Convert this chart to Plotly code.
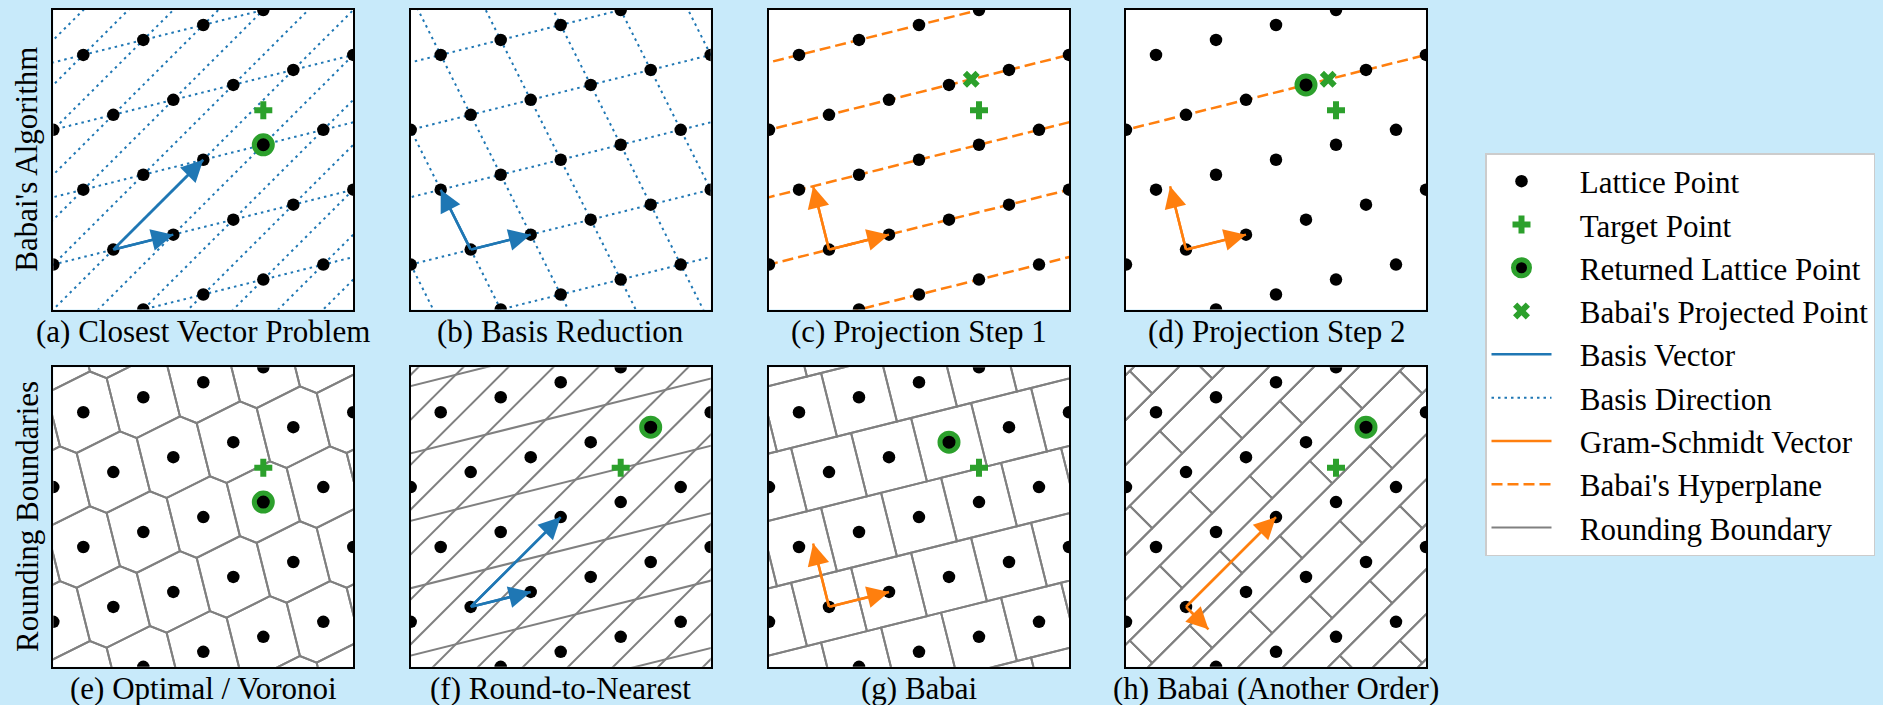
import numpy as np
import plotly.graph_objects as go

# ---------------- data ----------------
origin = [0.0, 0.0]
basis_b1 = [4.0, 1.0]
basis_b2 = [6.0, 6.0]
reduced_b2 = [-2.0, 4.0]          # b2 - 2*b1 (LLL-reduced partner of b1)
target = [10.0, 9.3]
axis_range = [-4.0, 16.0]

panel_titles = ["(a) Closest Vector Problem", "(b) Basis Reduction",
                "(c) Projection Step 1", "(d) Projection Step 2",
                "(e) Optimal / Voronoi", "(f) Round-to-Nearest",
                "(g) Babai", "(h) Babai (Another Order)"]
row_titles = ["Babai's Algorithm", "Rounding Boundaries"]
legend_names = ["Lattice Point", "Target Point", "Returned Lattice Point",
                "Babai's Projected Point", "Basis Vector", "Basis Direction",
                "Gram-Schmidt Vector", "Babai's Hyperplane", "Rounding Boundary"]

# ---------------- styles ----------------
BLUE, ORANGE, GREEN, GRAY = "#1f77b4", "#ff7f0e", "#2ca02c", "#808080"
BG = "#c8eafa"
FONT = "Liberation Serif, Times New Roman, serif"
W, H = 1883, 705
col_left = [53.3, 410.7, 769.0, 1126.0]
row_top = [10.0, 367.3]
PW, PH = 300.0, 299.5
PAD = "\u00a0\u00a0\u00a0"

O = np.array(origin); B1 = np.array(basis_b1); B2 = np.array(basis_b2)
B2R = np.array(reduced_b2); T = np.array(target)


def gram_schmidt(u, v):
    return v - (v @ u) / (u @ u) * u


def lattice(n=9):
    pts = []
    for i in range(-n, n + 1):
        for j in range(-n, n + 1):
            p = O + i * B1 + j * B2R
            if -12 <= p[0] <= 24 and -12 <= p[1] <= 24:
                pts.append(p)
    return np.array(pts)


PTS = lattice()


def closest(t):
    d = np.linalg.norm(PTS - t, axis=1)
    return PTS[np.argmin(d)]


def babai(t, u, v):
    vs = gram_schmidt(u, v)
    c = ((t - O) @ vs) / (vs @ vs)
    j = np.round(c)
    proj = t - (c - j) * vs
    i = np.round(((proj - O - j * v) @ u) / (u @ u))
    return O + i * u + j * v, proj


def round_nearest(t, u, v):
    M = np.column_stack([u, v])
    c = np.round(np.linalg.solve(M, t - O))
    return O + M @ c


def line_family(direction, offsets, ext=80.0):
    d = direction / np.linalg.norm(direction)
    xs, ys = [], []
    for p in offsets:
        a, b = p - ext * d, p + ext * d
        xs += [a[0], b[0], None]
        ys += [a[1], b[1], None]
    return xs, ys


def cells(corners):
    xs, ys = [], []
    for p in PTS:
        poly = [p + c for c in corners] + [p + corners[0]]
        xs += [q[0] for q in poly] + [None]
        ys += [q[1] for q in poly] + [None]
    return xs, ys


def voronoi_corners():
    vecs = [i * B1 + j * B2R for i in range(-2, 3) for j in range(-2, 3) if (i, j) != (0, 0)]
    verts = []
    for a in range(len(vecs)):
        for b in range(a + 1, len(vecs)):
            A = np.array([vecs[a], vecs[b]])
            if abs(np.linalg.det(A)) < 1e-9:
                continue
            x = np.linalg.solve(A, [vecs[a] @ vecs[a] / 2, vecs[b] @ vecs[b] / 2])
            if all(x @ v <= v @ v / 2 + 1e-7 for v in vecs):
                verts.append(x)
    verts = np.array(verts)
    ang = np.arctan2(verts[:, 1], verts[:, 0])
    verts = verts[np.argsort(ang)]
    uniq = [verts[0]]
    for v in verts[1:]:
        if np.linalg.norm(v - uniq[-1]) > 1e-6:
            uniq.append(v)
    return uniq


fig = go.Figure()
legend_done = set()
annotations = []


def add(kind, ax, **kw):
    show = kind not in legend_done
    legend_done.add(kind)
    kw.setdefault("hoverinfo", "skip")
    fig.add_trace(go.Scatter(name=PAD + kind, showlegend=show,
                             legendrank=legend_names.index(kind) + 1,
                             xaxis="x" + ax, yaxis="y" + ax, **kw))


def add_lines(ax, xs, ys, kind, color, width, dash="solid"):
    add(kind, ax, x=xs, y=ys, mode="lines",
        line=dict(color=color, width=width, dash=dash))


def add_vector(ax, start, vec, kind, color):
    tip = start + vec
    add(kind, ax, x=[start[0], tip[0]], y=[start[1], tip[1]], mode="lines",
        line=dict(color=color, width=2.5))
    annotations.append(dict(x=tip[0], y=tip[1], ax=start[0], ay=start[1],
                            xref="x" + ax, yref="y" + ax, axref="x" + ax, ayref="y" + ax,
                            text="", showarrow=True, arrowhead=2, arrowsize=1.75,
                            arrowwidth=2.5, arrowcolor=color, standoff=0))


def add_points(ax, returned=None, show_target=True, projected=None):
    add("Lattice Point", ax, x=PTS[:, 0], y=PTS[:, 1], mode="markers",
        marker=dict(color="black", size=12.5))
    if returned is not None:
        add("Returned Lattice Point", ax, x=[returned[0]], y=[returned[1]], mode="markers",
            marker=dict(color="black", size=18, line=dict(color=GREEN, width=5)))
    if show_target:
        add("Target Point", ax, x=[T[0]], y=[T[1]], mode="markers",
            marker=dict(color=GREEN, size=15, symbol="cross", line=dict(width=0)))
    if projected is not None:
        add("Babai's Projected Point", ax, x=[projected[0]], y=[projected[1]], mode="markers",
            marker=dict(color=GREEN, size=15, symbol="x", line=dict(width=0)))


ks = range(-14, 15)
DOT = "2.5px,4px"
DASH = "11px,5px"
B2S = gram_schmidt(B1, B2)
B1S_alt = gram_schmidt(B2, B1)
babai_pt, proj_pt = babai(T, B1, B2)
alt_pt, _ = babai(T, B2, B1)

# (a)
xs, ys = line_family(B1, [O + k * B2 for k in ks])
add_lines("", xs, ys, "Basis Direction", BLUE, 2, DOT)
xs, ys = line_family(B2, [O + k * B1 for k in ks])
add_lines("", xs, ys, "Basis Direction", BLUE, 2, DOT)
add_points("", returned=closest(T))
add_vector("", O, B1, "Basis Vector", BLUE)
add_vector("", O, B2, "Basis Vector", BLUE)

# (b)
xs, ys = line_family(B1, [O + k * B2R for k in ks])
add_lines("2", xs, ys, "Basis Direction", BLUE, 2, DOT)
xs, ys = line_family(B2R, [O + k * B1 for k in ks])
add_lines("2", xs, ys, "Basis Direction", BLUE, 2, DOT)
add_points("2", show_target=False)
add_vector("2", O, B1, "Basis Vector", BLUE)
add_vector("2", O, B2R, "Basis Vector", BLUE)

# (c)
xs, ys = line_family(B1, [O + k * B2 for k in ks])
add_lines("3", xs, ys, "Babai's Hyperplane", ORANGE, 2.5, DASH)
add_points("3", projected=proj_pt)
add_vector("3", O, B1, "Gram-Schmidt Vector", ORANGE)
add_vector("3", O, B2S, "Gram-Schmidt Vector", ORANGE)

# (d)
j_sel = np.round(((T - O) @ B2S) / (B2S @ B2S))
xs, ys = line_family(B1, [O + j_sel * B2])
add_lines("4", xs, ys, "Babai's Hyperplane", ORANGE, 2.5, DASH)
add_points("4", returned=babai_pt, projected=proj_pt)
add_vector("4", O, B1, "Gram-Schmidt Vector", ORANGE)
add_vector("4", O, B2S, "Gram-Schmidt Vector", ORANGE)

# (e)
xs, ys = cells(voronoi_corners())
add_lines("5", xs, ys, "Rounding Boundary", GRAY, 2)
add_points("5", returned=closest(T))

# (f)
xs1, ys1 = line_family(B2, [O + (k + 0.5) * B1 for k in ks])
xs2, ys2 = line_family(B1, [O + (k + 0.5) * B2 for k in ks])
add_lines("6", xs1 + xs2, ys1 + ys2, "Rounding Boundary", GRAY, 2)
add_points("6", returned=round_nearest(T, B1, B2))
add_vector("6", O, B1, "Basis Vector", BLUE)
add_vector("6", O, B2, "Basis Vector", BLUE)

# (g)
corners = [s * 0.5 * B1 + u * 0.5 * B2S for s, u in [(1, 1), (-1, 1), (-1, -1), (1, -1)]]
xs, ys = cells(corners)
add_lines("7", xs, ys, "Rounding Boundary", GRAY, 2)
add_points("7", returned=babai_pt)
add_vector("7", O, B1, "Gram-Schmidt Vector", ORANGE)
add_vector("7", O, B2S, "Gram-Schmidt Vector", ORANGE)

# (h)
corners = [s * 0.5 * B2 + u * 0.5 * B1S_alt for s, u in [(1, 1), (-1, 1), (-1, -1), (1, -1)]]
xs, ys = cells(corners)
add_lines("8", xs, ys, "Rounding Boundary", GRAY, 2)
add_points("8", returned=alt_pt)
add_vector("8", O, B2, "Gram-Schmidt Vector", ORANGE)
add_vector("8", O, B1S_alt, "Gram-Schmidt Vector", ORANGE)

layout = dict(width=W, height=H, margin=dict(l=0, r=0, t=0, b=0),
              paper_bgcolor=BG, plot_bgcolor="white",
              font=dict(family=FONT, size=31, color="black"),
              legend=dict(x=1485 / W, y=1 - 153 / H, xanchor="left", yanchor="top",
                          bgcolor="white", bordercolor="#cccccc", borderwidth=1.5,
                          font=dict(family=FONT, size=31, color="black"),
                          itemwidth=60, traceorder="normal"))

for idx in range(8):
    r, c = divmod(idx, 4)
    s = "" if idx == 0 else str(idx + 1)
    left, top = col_left[c], row_top[r]
    ax_common = dict(range=axis_range, showticklabels=False, ticks="", showgrid=False,
                     zeroline=False, showline=True, mirror=True, linecolor="black",
                     linewidth=2, fixedrange=True)
    layout["xaxis" + s] = dict(domain=[left / W, (left + PW) / W], anchor="y" + s, **ax_common)
    layout["yaxis" + s] = dict(domain=[1 - (top + PH) / H, 1 - top / H], anchor="x" + s, **ax_common)
    annotations.append(dict(x=(left + PW / 2) / W, y=1 - (top + PH + 22) / H,
                            xref="paper", yref="paper", text=panel_titles[idx],
                            showarrow=False, xanchor="center", yanchor="middle",
                            font=dict(family=FONT, size=31, color="black")))

for r in range(2):
    annotations.append(dict(x=27 / W, y=1 - (row_top[r] + PH / 2) / H, xref="paper", yref="paper",
                            text=row_titles[r], textangle=-90, showarrow=False,
                            xanchor="center", yanchor="middle",
                            font=dict(family=FONT, size=31, color="black")))

layout["annotations"] = annotations
fig.update_layout(**layout)
fig.write_html("out.html", config={"displayModeBar": False},
               post_script="document.body.style.margin='0px';document.body.style.overflow='hidden';")
